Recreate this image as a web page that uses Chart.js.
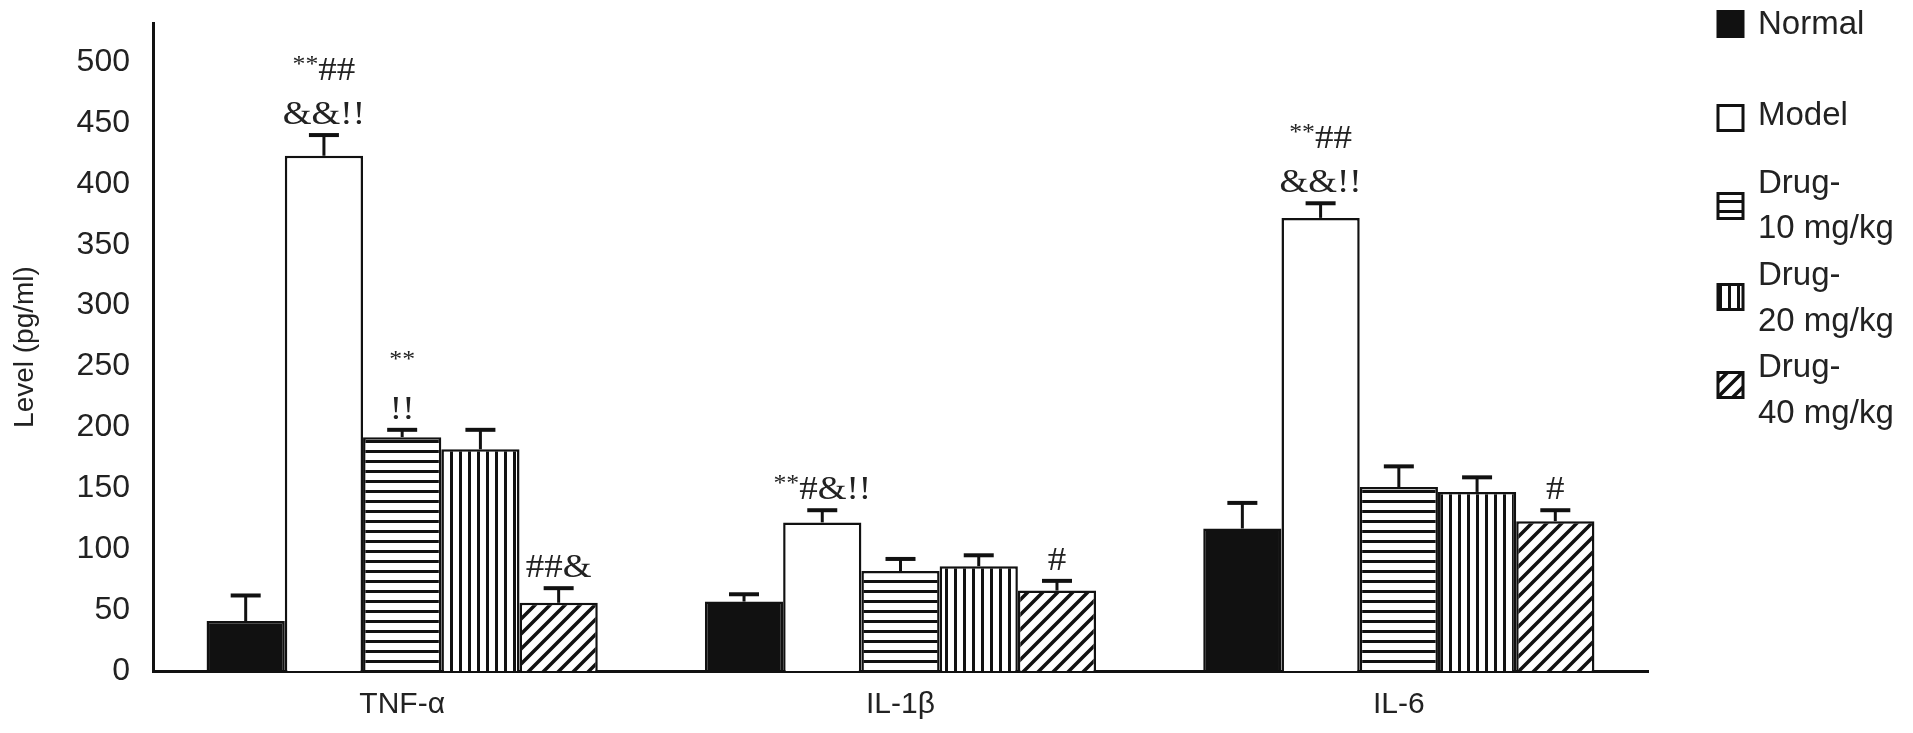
<!DOCTYPE html>
<html>
<head>
<meta charset="utf-8">
<script src="https://cdn.jsdelivr.net/npm/chart.js@4.4.1/dist/chart.umd.min.js"></script>
<style>
  html, body { margin: 0; padding: 0; background: #fff; }
  #wrap { width: 1913px; height: 733px; }
</style>
</head>
<body>
<div id="wrap"><canvas id="chart" width="1913" height="733"></canvas></div>
<script>
// categories and groups
const categories = ['TNF-α', 'IL-1β', 'IL-6'];
const groupNames = [['Normal'], ['Model'], ['Drug-', '10 mg/kg'], ['Drug-', '20 mg/kg'], ['Drug-', '40 mg/kg']];

// bar heights (pg/ml)
const normalVals = [41, 57, 117];
const modelVals = [423, 122, 372];
const drug10Vals = [192, 82, 151];
const drug20Vals = [182, 86, 147];
const drug40Vals = [56, 66, 123];

// upper error (SD) for each bar
const normalErr = [21, 6, 21];
const modelErr = [17, 10, 12];
const drug10Err = [6, 10, 17];
const drug20Err = [16, 9, 12];
const drug40Err = [12, 8, 9];

// significance marks, top line first
const normalMarks = [[], [], []];
const modelMarks = [['**##', '&&!!'], ['**#&!!'], ['**##', '&&!!']];
const drug10Marks = [['**', '!!'], [], []];
const drug20Marks = [[], [], []];
const drug40Marks = [['##&'], ['#'], ['#']];

const yTicks = [0, 50, 100, 150, 200, 250, 300, 350, 400, 450, 500];

const SANS = "'Liberation Sans', Arial, Helvetica, sans-serif";
const SERIF = "'Liberation Serif', 'Times New Roman', serif";

// hatch fills
function makePattern(kind) {
    const c = document.createElement('canvas');
    const g = c.getContext('2d');
    if (kind === 'h') {
        c.width = 10; c.height = 10;
        g.fillStyle = '#fff'; g.fillRect(0, 0, 10, 10);
        g.fillStyle = '#111'; g.fillRect(0, 0, 10, 3);
    } else if (kind === 'v') {
        c.width = 9; c.height = 10;
        g.fillStyle = '#fff'; g.fillRect(0, 0, 9, 10);
        g.fillStyle = '#111'; g.fillRect(0, 0, 3, 10);
    } else {
        const s = 15;
        c.width = s; c.height = s;
        g.fillStyle = '#fff'; g.fillRect(0, 0, s, s);
        g.strokeStyle = '#111'; g.lineWidth = 3.5;
        g.beginPath();
        g.moveTo(0, s); g.lineTo(s, 0);
        g.moveTo(-s / 2, s / 2); g.lineTo(s / 2, -s / 2);
        g.moveTo(s / 2, s * 1.5); g.lineTo(s * 1.5, s / 2);
        g.stroke();
    }
    return g.createPattern(c, 'repeat');
}

const fills = ['#111', '#fff', makePattern('h'), makePattern('v'), makePattern('d')];
const allVals = [normalVals, modelVals, drug10Vals, drug20Vals, drug40Vals];
const allErr = [normalErr, modelErr, drug10Err, drug20Err, drug40Err];
const allMarks = [normalMarks, modelMarks, drug10Marks, drug20Marks, drug40Marks];

const datasets = allVals.map((vals, i) => ({
    label: groupNames[i].join(' '),
    data: vals,
    backgroundColor: fills[i],
    borderColor: '#111',
    borderWidth: 2.5,
    borderSkipped: 'start',
    categoryPercentage: 0.785,
    barPercentage: 1.0
}));

// marks are a bit wider than the plain serif face, so stretch them sideways
function drawMark(ctx, text, cx, baseline) {
    const parts = [...text].map(ch => ch === '*'
        ? { ch, font: '23px ' + SERIF, dy: -9 }
        : { ch, font: '33px ' + SERIF, dy: 0 });
    let w = 0;
    parts.forEach(p => { ctx.font = p.font; p.w = ctx.measureText(p.ch).width; w += p.w; });
    ctx.save();
    ctx.translate(cx, baseline);
    ctx.scale(1.12, 1);
    let x = -w / 2;
    parts.forEach(p => {
        ctx.font = p.font;
        ctx.fillText(p.ch, x, p.dy);
        x += p.w;
    });
    ctx.restore();
}

// error bars (upper half only) + marks above them
const errorBars = {
    id: 'errorBars',
    afterDatasetsDraw(chart) {
        const ctx = chart.ctx;
        const yScale = chart.scales.y;
        ctx.save();
        ctx.strokeStyle = '#111';
        ctx.fillStyle = '#222';
        ctx.textAlign = 'left';
        ctx.textBaseline = 'alphabetic';
        chart.data.datasets.forEach((ds, di) => {
            const meta = chart.getDatasetMeta(di);
            meta.data.forEach((bar, j) => {
                const top = yScale.getPixelForValue(allVals[di][j] + allErr[di][j]);
                ctx.lineWidth = 3;
                ctx.beginPath();
                ctx.moveTo(bar.x, bar.y);
                ctx.lineTo(bar.x, top);
                ctx.stroke();
                ctx.lineWidth = 4;
                ctx.beginPath();
                ctx.moveTo(bar.x - 15, top);
                ctx.lineTo(bar.x + 15, top);
                ctx.stroke();
                const lines = allMarks[di][j];
                lines.forEach((t, k) => {
                    const base = top - 11 - (lines.length - 1 - k) * 44;
                    drawMark(ctx, t, bar.x, base);
                });
            });
        });
        ctx.restore();
    }
};

// legend on the right
const sideLegend = {
    id: 'sideLegend',
    afterDraw(chart) {
        const ctx = chart.ctx;
        const boxY = [24, 118, 206, 297, 385];
        const textY = [[25], [116], [184, 229], [276, 322], [368, 414]];
        ctx.save();
        ctx.font = '33px ' + SANS;
        ctx.textBaseline = 'middle';
        ctx.textAlign = 'left';
        groupNames.forEach((name, i) => {
            const x = 1718, s = 25, y = boxY[i] - s / 2;
            ctx.fillStyle = fills[i];
            ctx.fillRect(x, y, s, s);
            ctx.lineWidth = 3;
            ctx.strokeStyle = '#111';
            ctx.strokeRect(x, y, s, s);
            ctx.fillStyle = '#222';
            name.forEach((t, k) => ctx.fillText(t, 1758, textY[i][k]));
        });
        ctx.restore();
    }
};

new Chart(document.getElementById('chart'), {
    type: 'bar',
    data: { labels: categories, datasets: datasets },
    options: {
        responsive: false,
        animation: false,
        devicePixelRatio: 1,
        layout: { padding: { top: 23, right: 265, left: 0, bottom: 0 } },
        plugins: { legend: { display: false }, tooltip: { enabled: false } },
        scales: {
            x: {
                grid: { display: false, drawTicks: false },
                border: { display: true, color: '#111', width: 3 },
                ticks: { color: '#222', font: { family: SANS, size: 30 }, padding: 16 },
                afterFit(s) { s.height = 62; s.paddingLeft = 0; s.paddingRight = 0; }
            },
            y: {
                min: 0,
                max: 532,
                grid: { display: false, drawTicks: false },
                border: { display: true, color: '#111', width: 3 },
                ticks: { color: '#222', font: { family: SANS, size: 32 }, padding: 23 },
                afterBuildTicks(s) { s.ticks = yTicks.map(v => ({ value: v })); },
                title: {
                    display: true,
                    text: 'Level (pg/ml)',
                    color: '#222',
                    font: { family: SANS, size: 28 },
                    padding: { top: 8, bottom: 0 }
                },
                afterFit(s) { s.width = 153; s.paddingTop = 0; s.paddingBottom = 0; }
            }
        }
    },
    plugins: [errorBars, sideLegend]
});
</script>
</body>
</html>
